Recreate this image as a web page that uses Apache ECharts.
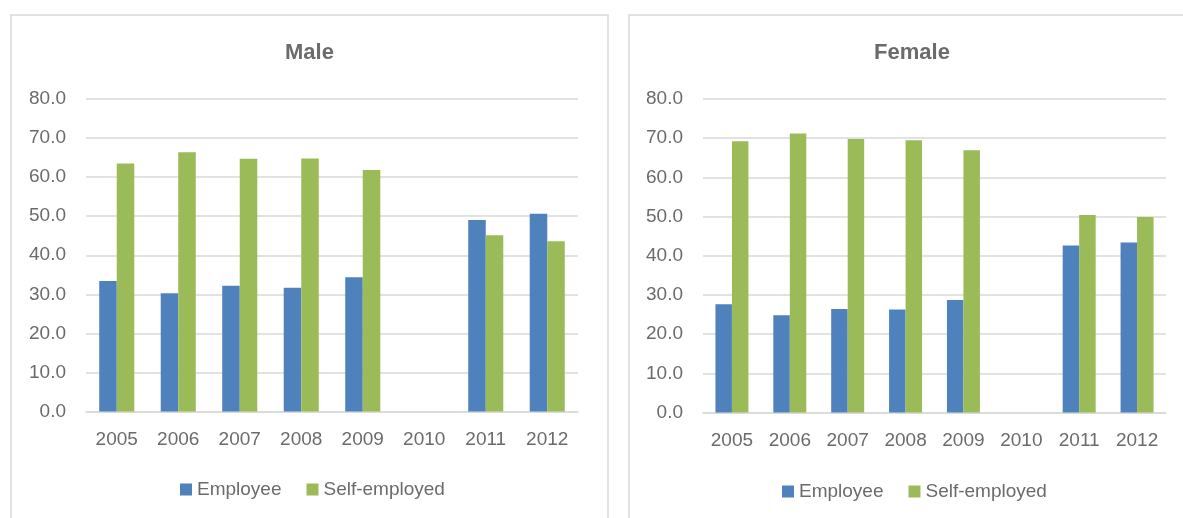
<!DOCTYPE html>
<html>
<head>
<meta charset="utf-8">
<script src="https://cdn.jsdelivr.net/npm/echarts@6/dist/echarts.min.js"></script>
<style>
  html, body { margin: 0; padding: 0; background: #fff; width: 1183px; height: 518px; overflow: hidden; position: relative; }
  #male { position: absolute; left: 0; top: 0; width: 619px; height: 518px; }
  #female { position: absolute; left: 619px; top: 0; width: 586px; height: 518px; }
</style>
</head>
<body>
<div id="male"></div>
<div id="female"></div>
<script>
// Years on the category axis (no survey figures for 2010)
const years = ['2005', '2006', '2007', '2008', '2009', '2010', '2011', '2012'];

// Male shares (%)
const maleEmployee     = [33.4, 30.3, 32.2, 31.7, 34.4, null, 49.0, 50.6];
const maleSelfEmployed = [63.5, 66.4, 64.7, 64.8, 61.8, null, 45.1, 43.6];

// Female shares (%)
const femaleEmployee     = [27.6, 24.8, 26.4, 26.3, 28.7, null, 42.6, 43.4];
const femaleSelfEmployed = [69.2, 71.2, 69.8, 69.5, 66.9, null, 50.4, 49.9];

const seriesNames = ['Employee', 'Self-employed'];
const colors = ['#4F81BD', '#9BBB59'];
const textColor = '#6b6b6b';
const lineColor = '#D9D9D9';
const fontFamily = '"Liberation Sans", Arial, sans-serif';

function buildOption(title, employee, selfEmployed, layout) {
  return {
    animation: false,
    color: colors,
    textStyle: { fontFamily: fontFamily },
    graphic: [{
      type: 'rect',
      silent: true,
      shape: { x: layout.frameX, y: 15, width: layout.frameW, height: 600 },
      style: { fill: 'none', stroke: lineColor, lineWidth: 1.5 }
    }],
    title: {
      text: title,
      left: 'center',
      top: 37,
      textStyle: { fontFamily: fontFamily, fontSize: 22, fontWeight: 'bold', color: textColor }
    },
    legend: {
      data: seriesNames,
      left: layout.legendLeft,
      top: layout.legendTop,
      padding: 0,
      itemWidth: 12,
      itemHeight: 12,
      itemGap: 25,
      icon: 'rect',
      textStyle: { fontFamily: fontFamily, fontSize: 19, color: textColor }
    },
    grid: {
      left: layout.gridLeft,
      right: layout.gridRight,
      top: 99,
      bottom: layout.gridBottom,
      containLabel: false
    },
    xAxis: {
      type: 'category',
      data: years,
      axisTick: { show: false },
      axisLine: { show: true, lineStyle: { color: lineColor, width: 1.5 } },
      axisLabel: { color: textColor, fontSize: 19, margin: 19, fontFamily: fontFamily }
    },
    yAxis: {
      type: 'value',
      min: 0,
      max: 80,
      interval: 10,
      axisLine: { show: false },
      axisTick: { show: false },
      splitLine: { lineStyle: { color: lineColor, width: 1.5 } },
      axisLabel: {
        color: textColor, fontSize: 19, margin: 20, fontFamily: fontFamily,
        formatter: v => v.toFixed(1)
      }
    },
    series: [
      { name: seriesNames[0], type: 'bar', data: employee, barGap: 0, barCategoryGap: '43%' },
      { name: seriesNames[1], type: 'bar', data: selfEmployed, barGap: 0, barCategoryGap: '43%' }
    ]
  };
}

const maleChart = echarts.init(document.getElementById('male'), null, { renderer: 'canvas' });
maleChart.setOption(buildOption('Male', maleEmployee, maleSelfEmployed, {
  frameX: 11, frameW: 597,
  legendLeft: 180, legendTop: 480,
  gridLeft: 86, gridRight: 41, gridBottom: 106.5
}));

const femaleChart = echarts.init(document.getElementById('female'), null, { renderer: 'canvas' });
femaleChart.setOption(buildOption('Female', femaleEmployee, femaleSelfEmployed, {
  frameX: 10, frameW: 620,
  legendLeft: 163, legendTop: 482,
  gridLeft: 84, gridRight: 39, gridBottom: 105.5
}));
</script>
</body>
</html>
